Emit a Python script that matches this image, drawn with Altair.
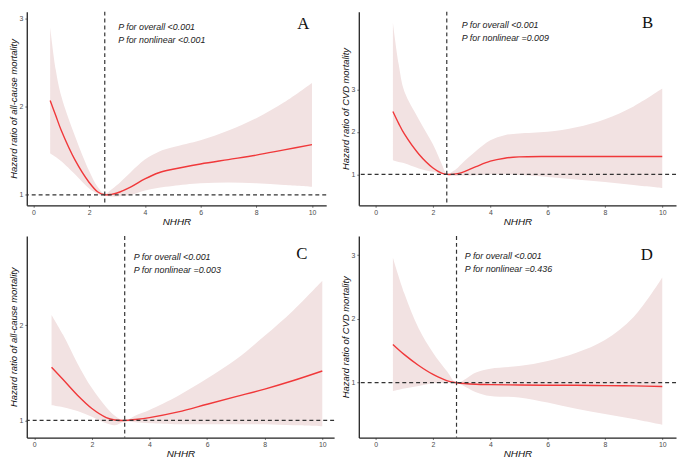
import altair as alt
import pandas as pd

# ---- data ----
a_x = [0.6, 0.8, 1.0, 1.5, 2.0, 2.3, 2.56, 2.8, 3.0, 3.5, 4.0, 4.5, 5.0, 6.0, 7.0, 8.0, 9.0, 10.0]
a_hr = [2.07, 1.90, 1.73, 1.39, 1.14, 1.035, 1.00, 1.005, 1.02, 1.09, 1.18, 1.25, 1.29, 1.35, 1.40, 1.45, 1.51, 1.57]
a_up = [2.90, 2.42, 2.12, 1.66, 1.27, 1.09, 1.01, 1.06, 1.11, 1.26, 1.40, 1.49, 1.54, 1.62, 1.73, 1.87, 2.05, 2.27]
a_lo = [1.47, 1.43, 1.38, 1.23, 1.07, 1.01, 0.99, 0.98, 0.98, 1.00, 1.05, 1.08, 1.10, 1.13, 1.14, 1.13, 1.11, 1.09]

b_x = [0.6, 0.8, 1.0, 1.5, 2.0, 2.3, 2.48, 2.8, 3.0, 3.5, 4.0, 4.5, 5.0, 6.0, 7.0, 8.0, 9.0, 10.0]
b_hr = [2.48, 2.20, 1.95, 1.48, 1.15, 1.03, 1.00, 1.01, 1.04, 1.18, 1.31, 1.38, 1.41, 1.42, 1.42, 1.42, 1.42, 1.42]
b_up = [4.57, 3.60, 2.95, 2.30, 1.70, 1.25, 1.02, 1.12, 1.25, 1.55, 1.80, 1.92, 1.96, 2.00, 2.11, 2.30, 2.60, 3.02]
b_lo = [1.33, 1.29, 1.26, 1.14, 1.06, 1.02, 0.99, 0.96, 0.97, 0.98, 1.00, 1.00, 0.99, 0.94, 0.88, 0.82, 0.75, 0.68]

c_x = [0.6, 1.0, 1.5, 2.0, 2.5, 2.8, 3.14, 3.5, 4.0, 5.0, 6.0, 7.0, 8.0, 9.0, 10.0]
c_hr = [1.56, 1.43, 1.265, 1.125, 1.03, 1.005, 1.00, 1.01, 1.03, 1.09, 1.17, 1.25, 1.33, 1.42, 1.52]
c_up = [2.11, 1.90, 1.60, 1.34, 1.14, 1.05, 1.00, 1.05, 1.11, 1.26, 1.44, 1.64, 1.89, 2.16, 2.47]
c_lo = [1.16, 1.14, 1.10, 1.04, 0.97, 0.95, 0.99, 0.98, 0.97, 0.96, 0.96, 0.96, 0.96, 0.95, 0.94]

d_x = [0.6, 1.0, 1.5, 2.0, 2.5, 2.82, 3.5, 4.0, 5.0, 6.0, 7.0, 8.0, 9.0, 10.0]
d_hr = [1.60, 1.44, 1.27, 1.13, 1.03, 1.00, 0.975, 0.97, 0.965, 0.96, 0.96, 0.955, 0.95, 0.94]
d_up = [2.96, 2.40, 1.85, 1.47, 1.17, 1.00, 1.16, 1.22, 1.26, 1.34, 1.47, 1.67, 2.03, 2.65]
d_lo = [0.87, 0.91, 0.95, 0.99, 1.00, 1.00, 0.85, 0.79, 0.77, 0.69, 0.59, 0.51, 0.43, 0.34]

ref_x = {"A": 2.56, "B": 2.48, "C": 3.14, "D": 2.82}
p_overall = "P for overall <0.001"
p_nonlin = ["P for nonlinear <0.001", "P for nonlinear =0.009",
            "P for nonlinear =0.003", "P for nonlinear =0.436"]
y_titles = ["Hazard ratio of all-cause mortality", "Hazard ratio of CVD mortality",
            "Hazard ratio of all-cause mortality", "Hazard ratio of CVD mortality"]
x_ticks = [0, 2, 4, 6, 8, 10]

LINE = "#f0383a"
FILL = "#f2e2e2"
DASH = "#333333"
FONT = "Liberation Sans"
INTERP = "catmull-rom"


def panel(letter, xs, hr, up, lo, xdom, ydom, yticks, ptxt_x, ptxt_y, let_x, let_y,
          nonlin, ytitle, w, h):
    df = pd.DataFrame({"x": xs, "hr": hr, "up": up, "lo": lo})
    xsc = alt.Scale(domain=xdom, nice=False, zero=False)
    ysc = alt.Scale(domain=ydom, nice=False, zero=False)
    xax = alt.Axis(title="NHHR", values=x_ticks, grid=False, format="d", domain=True)
    yax = alt.Axis(title=ytitle, values=yticks, grid=False, format="d", domain=True)
    base = alt.Chart(df)
    area = base.mark_area(color=FILL, opacity=1, interpolate=INTERP).encode(
        x=alt.X("x:Q", scale=xsc, axis=xax),
        y=alt.Y("lo:Q", scale=ysc, axis=yax),
        y2="up:Q",
    )
    line = base.mark_line(color=LINE, strokeWidth=1.4, interpolate=INTERP).encode(
        x="x:Q", y="hr:Q"
    )
    vr = alt.Chart(pd.DataFrame({"x": [ref_x[letter]]})).mark_rule(
        color=DASH, strokeDash=[4, 3], strokeWidth=1.2
    ).encode(x="x:Q")
    hrule = alt.Chart(pd.DataFrame({"y": [1.0]})).mark_rule(
        color=DASH, strokeDash=[4, 3], strokeWidth=1.2
    ).encode(y="y:Q")
    tdf = pd.DataFrame({"x": [ptxt_x], "t1": [p_overall], "t2": [nonlin]})
    t1 = alt.Chart(tdf).mark_text(
        font=FONT, fontStyle="italic", fontSize=9, align="left", baseline="middle",
        color="#222"
    ).encode(x="x:Q", y=alt.value(ptxt_y), text="t1:N")
    t2 = alt.Chart(tdf).mark_text(
        font=FONT, fontStyle="italic", fontSize=9, align="left", baseline="middle",
        color="#222"
    ).encode(x="x:Q", y=alt.value(ptxt_y + 13), text="t2:N")
    ldf = pd.DataFrame({"x": [let_x], "l": [letter]})
    lt = alt.Chart(ldf).mark_text(
        font="Liberation Serif", fontSize=17, align="center", baseline="middle",
        color="#111"
    ).encode(x="x:Q", y=alt.value(let_y), text="l:N")
    return alt.layer(area, line, vr, hrule, t1, t2, lt).properties(width=w, height=h)


H1, H2 = 196, 204

pa = panel("A", a_x, a_hr, a_up, a_lo, [-0.24, 10.51], [0.88, 3.08], [1, 2, 3],
           3.04, 16, 9.69, 13, p_nonlin[0], y_titles[0], 303, H1)
pb = panel("B", b_x, b_hr, b_up, b_lo, [-0.59, 10.48], [0.27, 4.83], [1, 2, 3],
           3.0, 14, 9.49, 12, p_nonlin[1], y_titles[1], 321, H1)
pc = panel("C", c_x, c_hr, c_up, c_lo, [-0.26, 10.41], [0.82, 2.94], [1, 2],
           3.45, 21, 9.29, 18, p_nonlin[2], y_titles[2], 311, H2)
pd_ = panel("D", d_x, d_hr, d_up, d_lo, [-0.59, 10.48], [0.14, 3.3], [1, 2, 3],
            3.11, 20, 9.46, 19, p_nonlin[3], y_titles[3], 321, H2)

row1 = alt.hconcat(pa, pb, spacing=13)
row2 = alt.hconcat(pc, pd_, spacing=5)

chart = alt.vconcat(row1, row2, spacing=9).properties(
    padding=0
).configure_view(stroke=None).configure_axis(
    domainColor="#222222", domainWidth=1.3, domainOpacity=1, tickColor="#555555",
    tickSize=2, tickWidth=0.8, labelColor="#4d4d4d", labelFont=FONT, labelFontSize=7,
    labelPadding=2, titleFont=FONT, titleFontStyle="italic", titleFontWeight="normal",
    titleColor="#111111", titleFontSize=9.5, titlePadding=1
).configure_axisX(titleFontSize=10, labelPadding=1, titlePadding=1)

chart.save("out.html", embed_options={"renderer": "svg", "actions": False})
